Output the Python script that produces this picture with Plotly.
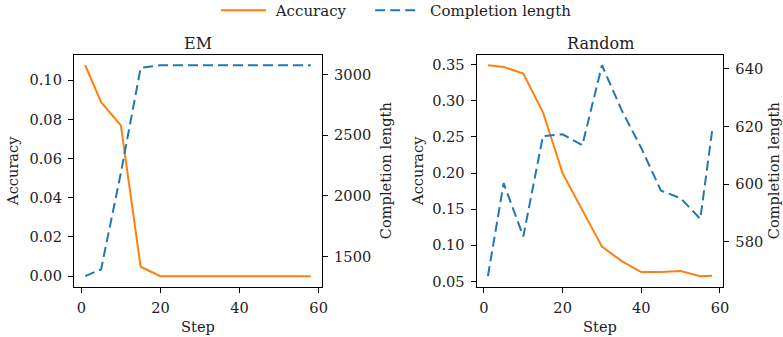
import plotly.graph_objects as go

steps = [1, 5, 10, 15, 20, 25, 30, 35, 40, 45, 50, 55, 58]
em_accuracy = [0.1077, 0.0888, 0.0770, 0.0048, 0.0, 0.0, 0.0, 0.0, 0.0, 0.0, 0.0, 0.0, 0.0]
em_length = [1340, 1396, 2190, 3054, 3076, 3076, 3076, 3076, 3076, 3076, 3076, 3076, 3076]
rand_accuracy = [0.349, 0.3467, 0.3374, 0.284, 0.1995, 0.1484, 0.0982, 0.0783, 0.063, 0.063, 0.0645, 0.0574, 0.058]
rand_length = [568, 600.3, 581.8, 616.7, 617.3, 613.5, 641.3, 625.7, 612.5, 597.7, 595.1, 587.9, 618.4]

acc_ticks_em = [0.0, 0.02, 0.04, 0.06, 0.08, 0.10]
len_ticks_em = [1500, 2000, 2500, 3000]
acc_ticks_rand = [0.05, 0.10, 0.15, 0.20, 0.25, 0.30, 0.35]
len_ticks_rand = [580, 600, 620, 640]
x_ticks = [0, 20, 40, 60]

ORANGE = "#ff7f0e"
BLUE = "#1f77b4"
FONT = "DejaVu Serif"
W, H = 783, 337
FS = 14.6
NB = "\u00a0"


def pad(vals):
    lo, hi = min(vals), max(vals)
    m = (hi - lo) * 0.05
    return [lo - m, hi + m]


fig = go.Figure()
fig.add_trace(go.Scatter(x=steps, y=em_accuracy, mode="lines", name=NB + "Accuracy" + NB * 4,
                         line=dict(color=ORANGE, width=2), xaxis="x", yaxis="y"))
fig.add_trace(go.Scatter(x=steps, y=em_length, mode="lines", name=NB + "Completion length",
                         line=dict(color=BLUE, width=2, dash="10px,5px"), xaxis="x", yaxis="y2"))
fig.add_trace(go.Scatter(x=steps, y=rand_accuracy, mode="lines", showlegend=False,
                         line=dict(color=ORANGE, width=2), xaxis="x2", yaxis="y3"))
fig.add_trace(go.Scatter(x=steps, y=rand_length, mode="lines", showlegend=False,
                         line=dict(color=BLUE, width=2, dash="10px,5px"), xaxis="x2", yaxis="y4"))

ybot = (H - 286.7) / H
ytop = (H - 54.7) / H
d1 = [74 / W, 322 / W]
d2 = [476.7 / W, 723.3 / W]

axcommon = dict(showline=True, linecolor="black", linewidth=1.3, ticks="outside",
                ticklen=5, tickwidth=1.1, tickcolor="black", showgrid=False, zeroline=False,
                automargin=False, ticklabelstandoff=3,
                tickfont=dict(family=FONT, size=FS, color="#222"))
titlefont = dict(family=FONT, size=FS, color="#222")

xr = pad(steps)
fig.update_layout(
    xaxis=dict(domain=d1, range=xr, tickvals=x_ticks, anchor="y", mirror=True,
               title=dict(text="Step", font=titlefont, standoff=6), **axcommon),
    yaxis=dict(domain=[ybot, ytop], range=pad(em_accuracy), tickvals=acc_ticks_em,
               tickformat=".2f", anchor="x", mirror=True,
               title=dict(text="Accuracy", font=titlefont, standoff=7), **axcommon),
    yaxis2=dict(overlaying="y", side="right", anchor="x", range=pad(em_length),
                tickvals=len_ticks_em,
                title=dict(text="Completion length", font=titlefont, standoff=10), **axcommon),
    xaxis2=dict(domain=d2, range=xr, tickvals=x_ticks, anchor="y3", mirror=True,
                title=dict(text="Step", font=titlefont, standoff=6), **axcommon),
    yaxis3=dict(domain=[ybot, ytop], range=pad(rand_accuracy), tickvals=acc_ticks_rand,
                tickformat=".2f", anchor="x2", mirror=True,
                title=dict(text="Accuracy", font=titlefont, standoff=5), **axcommon),
    yaxis4=dict(overlaying="y3", side="right", anchor="x2", range=pad(rand_length),
                tickvals=len_ticks_rand,
                title=dict(text="Completion length", font=titlefont, standoff=6), **axcommon),
    width=W, height=H, margin=dict(l=0, r=0, t=0, b=0, autoexpand=False),
    paper_bgcolor="white", plot_bgcolor="white",
    font=dict(family=FONT, size=FS, color="#222"),
    legend=dict(orientation="h", x=0.5064, xanchor="center", y=1.018, yanchor="top",
                font=dict(family=FONT, size=15, color="#222"), itemwidth=45,
                bgcolor="rgba(0,0,0,0)"),
    annotations=[
        dict(text="EM", x=(d1[0] + d1[1]) / 2, y=ytop, xref="paper", yref="paper",
             xanchor="center", yanchor="bottom", yshift=0, showarrow=False,
             font=dict(family=FONT, size=16, color="#222")),
        dict(text="Random", x=(d2[0] + d2[1]) / 2, y=ytop, xref="paper", yref="paper",
             xanchor="center", yanchor="bottom", yshift=0, showarrow=False,
             font=dict(family=FONT, size=16, color="#222")),
    ],
)

fig.write_html("out.html", config={"displayModeBar": False},
               post_script="document.body.style.margin='0';document.body.style.overflow='hidden';")
